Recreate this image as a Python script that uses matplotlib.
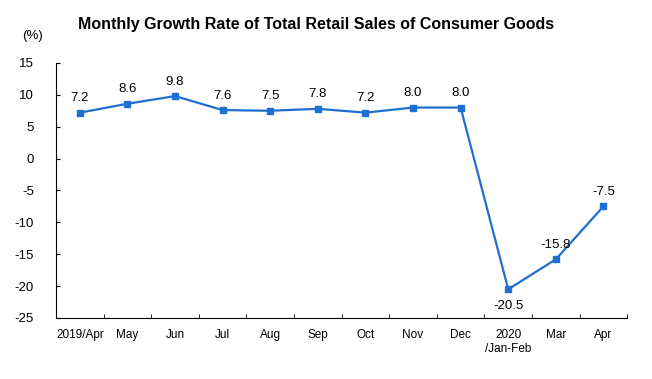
import matplotlib
matplotlib.use("Agg")
import matplotlib.pyplot as plt

months = ["2019/Apr", "May", "Jun", "Jul", "Aug", "Sep", "Oct", "Nov", "Dec",
          "2020\n/Jan-Feb", "Mar", "Apr"]
growth = [7.2, 8.6, 9.8, 7.6, 7.5, 7.8, 7.2, 8.0, 8.0, -20.5, -15.8, -7.5]

plt.rcParams['font.family'] = ['Liberation Sans', 'DejaVu Sans']
plt.rcParams['axes.unicode_minus'] = False

fig = plt.figure(figsize=(6.52, 3.79), dpi=100)
ax = fig.add_axes([0.086, 0.161, 0.876, 0.673])

x = list(range(len(months)))
ax.plot(x, growth, color="#1f6fd0", linewidth=1.6, marker="s", markersize=4)

for i, v in enumerate(growth):
    if v < -18:
        ax.annotate(f"{v:.1f}", (i, v), xytext=(0, -8), textcoords="offset points",
                    ha="center", va="top", fontsize=9.5)
    else:
        ax.annotate(f"{v:.1f}", (i, v), xytext=(0, 6), textcoords="offset points",
                    ha="center", va="bottom", fontsize=9.5)

ax.set_xlim(-0.5, len(months) - 0.5)
ax.set_ylim(-25, 15)
ax.set_yticks(range(-25, 20, 5))
ax.set_xticks(x)
ax.set_xticklabels(months, fontsize=8.5)
ax.set_xticks([i + 0.5 for i in x], minor=True)
ax.tick_params(axis="x", which="major", length=0, pad=8)
ax.tick_params(axis="x", which="minor", direction="in", length=3)
ax.tick_params(axis="y", direction="in", length=3, labelsize=9.5, pad=16)
for s in ["top", "right"]:
    ax.spines[s].set_visible(False)

fig.text(0.485, 0.935, "Monthly Growth Rate of Total Retail Sales of Consumer Goods",
         ha="center", va="center", fontsize=11.5, fontweight="bold")
fig.text(0.05, 0.905, "(%)", ha="center", va="center", fontsize=9.5)

fig.savefig("out.png", dpi=100)
